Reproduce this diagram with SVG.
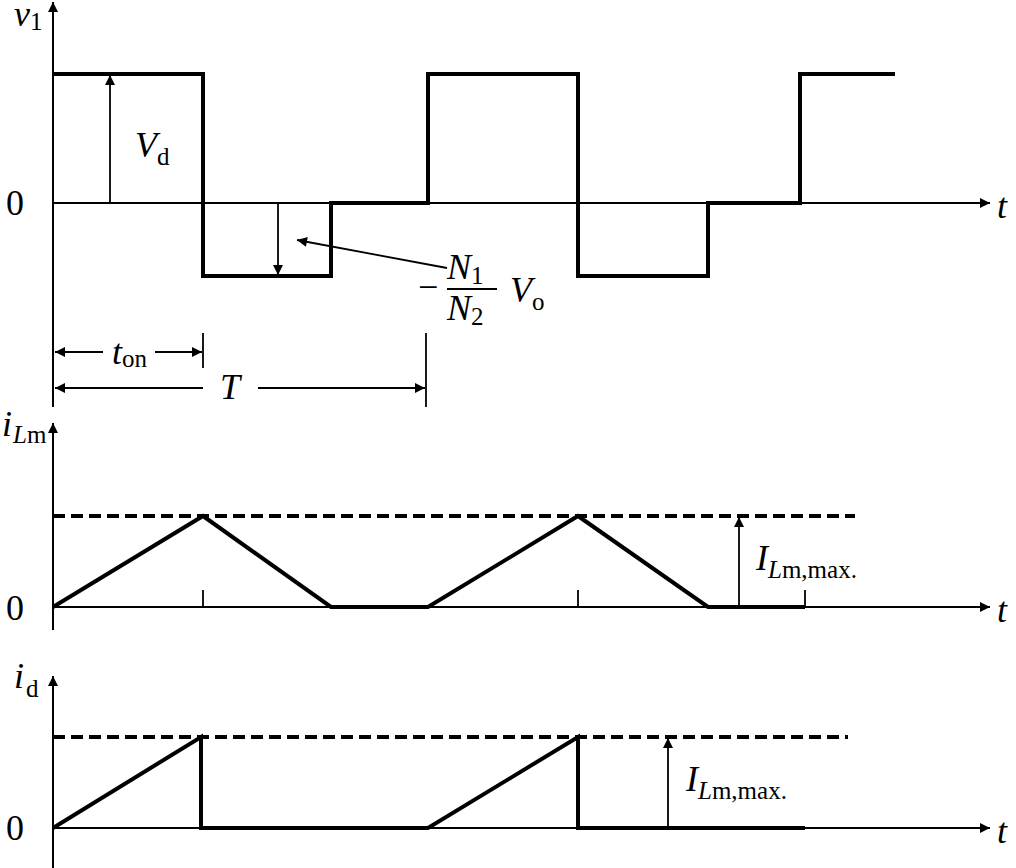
<svg xmlns="http://www.w3.org/2000/svg" width="1016" height="868" viewBox="0 0 1016 868">
<style>
.ax{stroke:#000;stroke-width:2;fill:none}
.wv{stroke:#000;stroke-width:4;fill:none;stroke-linejoin:miter}
.ds{stroke:#000;stroke-width:4;fill:none;stroke-dasharray:12,6}
.th{stroke:#000;stroke-width:1.8;fill:none}
.t{font-family:"Liberation Serif",serif;fill:#000;font-size:36px}
.i{font-style:italic}
.s{font-size:25px;font-style:normal}
.si{font-size:25px;font-style:italic}
</style>
<defs>
<marker id="ah" viewBox="0 0 10 10" refX="10" refY="5" markerWidth="14" markerHeight="10" markerUnits="userSpaceOnUse" orient="auto"><path d="M0,0 L10,5 L0,10 z" fill="#000"/></marker>
</defs>
<rect width="1016" height="868" fill="#fff"/>
<g id="axes">
<line class="ax" x1="53" y1="407" x2="53" y2="2" marker-end="url(#ah)"/>
<line class="ax" x1="53" y1="203" x2="990" y2="203" marker-end="url(#ah)"/>
<line class="ax" x1="53" y1="630" x2="53" y2="423" marker-end="url(#ah)"/>
<line class="ax" x1="53" y1="607" x2="990" y2="607" marker-end="url(#ah)"/>
<line class="ax" x1="53" y1="868" x2="53" y2="676" marker-end="url(#ah)"/>
<line class="ax" x1="53" y1="828" x2="990" y2="828" marker-end="url(#ah)"/>
</g>
<g id="waves">
<polyline class="wv" points="53,74 203,74 203,276 331,276 331,203 428,203 428,74 578,74 578,276 708,276 708,203 800,203 800,74 895,74"/>
<line class="ds" x1="53" y1="516" x2="855" y2="516"/>
<polyline class="wv" points="53,607 203,516 331,607 428,607 578,516 708,607 805,607"/>
<line class="ds" x1="53" y1="737" x2="848" y2="737"/>
<polyline class="wv" points="53,828 201,737 201,828 428,828 578,737 578,828 805,828"/>
</g>
<g id="connectors">
<line class="th" x1="110" y1="203" x2="110" y2="75" marker-end="url(#ah)"/>
<line class="th" x1="278" y1="203" x2="278" y2="275" marker-end="url(#ah)"/>
<line class="th" x1="447" y1="268" x2="297" y2="240" marker-end="url(#ah)"/>
<line class="th" x1="203" y1="333" x2="203" y2="368"/>
<line class="th" x1="426" y1="333" x2="426" y2="407"/>
<line class="th" x1="103" y1="352" x2="55" y2="352" marker-end="url(#ah)"/>
<line class="th" x1="155" y1="352" x2="202" y2="352" marker-end="url(#ah)"/>
<line class="th" x1="203" y1="388" x2="55" y2="388" marker-end="url(#ah)"/>
<line class="th" x1="258" y1="388" x2="425" y2="388" marker-end="url(#ah)"/>
<line class="th" x1="203" y1="590" x2="203" y2="607"/>
<line class="th" x1="578" y1="590" x2="578" y2="607"/>
<line class="th" x1="805" y1="590" x2="805" y2="607"/>
<line class="th" x1="739" y1="607" x2="739" y2="517" marker-end="url(#ah)"/>
<line class="th" x1="668" y1="828" x2="668" y2="738" marker-end="url(#ah)"/>
<line class="th" x1="447" y1="289" x2="497" y2="289"/>
</g>
<g id="labels">
<text class="t" x="14" y="26"><tspan class="i">v</tspan><tspan class="s" dy="4">1</tspan></text>
<text class="t" x="6" y="215">0</text>
<text class="t" x="6" y="620">0</text>
<text class="t" x="6" y="840">0</text>
<text class="t i" x="997" y="218">t</text>
<text class="t i" x="997" y="622">t</text>
<text class="t i" x="997" y="843">t</text>
<text class="t" x="135" y="157"><tspan class="i">V</tspan><tspan class="s" dy="8">d</tspan></text>
<text class="t" x="418" y="299" font-size="30">−</text>
<text class="t" x="447" y="279"><tspan class="i">N</tspan><tspan class="s" dy="5">1</tspan></text>
<text class="t" x="447" y="320"><tspan class="i">N</tspan><tspan class="s" dy="5">2</tspan></text>
<text class="t" x="510" y="302"><tspan class="i">V</tspan><tspan class="s" dy="8">o</tspan></text>
<text class="t" x="112" y="364"><tspan class="i">t</tspan><tspan class="s" dy="3">on</tspan></text>
<text class="t i" x="220" y="399">T</text>
<text class="t" x="2" y="436"><tspan class="i">i</tspan><tspan class="si" dx="1" dy="7">L</tspan><tspan class="s">m</tspan></text>
<text class="t" x="14" y="688"><tspan class="i">i</tspan><tspan class="s" dx="2" dy="9">d</tspan></text>
<text class="t" x="756" y="570"><tspan class="i">I</tspan><tspan class="si" dy="8">L</tspan><tspan class="s">m,max.</tspan></text>
<text class="t" x="686" y="791"><tspan class="i">I</tspan><tspan class="si" dy="8">L</tspan><tspan class="s">m,max.</tspan></text>
</g>
</svg>
